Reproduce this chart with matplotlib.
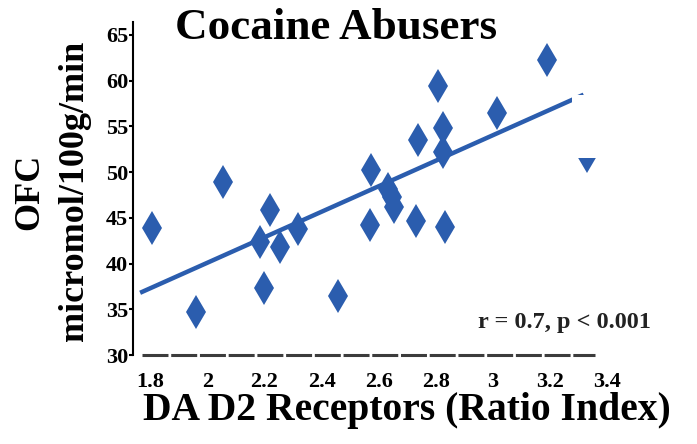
import numpy as np
import matplotlib.pyplot as plt
from matplotlib.patches import Rectangle

# D2 receptor availability vs. OFC metabolism, cocaine abusers
d2_ratio = [1.806, 1.961, 2.055, 2.183, 2.200, 2.218, 2.253, 2.319, 2.456,
            2.568, 2.573, 2.634, 2.646, 2.652, 2.731, 2.736, 2.806, 2.825,
            2.825, 2.833, 3.014, 3.189, 3.330]
ofc_metab = [43.9, 34.7, 48.9, 42.4, 37.3, 45.9, 41.8, 43.8, 36.4,
             44.2, 50.2, 48.2, 47.3, 46.2, 44.6, 53.5, 59.4, 54.8,
             52.2, 44.0, 56.4, 62.3, 51.7]

xticks = [1.8, 2.0, 2.2, 2.4, 2.6, 2.8, 3.0, 3.2, 3.4]
xtick_labels = ['1.8', '2', '2.2', '2.4', '2.6', '2.8', '3', '3.2', '3.4']
yticks = [30, 35, 40, 45, 50, 55, 60, 65]

# fitted line endpoints
fit_x = [1.772, 3.31]
fit_slope = 13.95
fit_intercept = 12.18

blue = '#2B5DAE'
plt.rcParams['font.family'] = ['Liberation Serif', 'DejaVu Serif']
plt.rcParams['font.weight'] = 'bold'

fig = plt.figure(figsize=(6.97, 4.44), dpi=100)
ax = fig.add_axes([133 / 697, 89 / 444, 480 / 697, 333 / 444])

ax.plot(d2_ratio, ofc_metab, linestyle='none', marker='d', ms=17.5,
        color=blue, markeredgewidth=0, zorder=3)
fx = np.array(fit_x)
ax.plot(fx, fit_slope * fx + fit_intercept, color=blue, lw=3.2, zorder=4)

# white box over the top-right end of the fit
ax.add_patch(Rectangle((3.277, 51.55), 0.098, 6.9, facecolor='white',
                       edgecolor='none', zorder=6))

# broken x axis line
ax.plot([1.771, 3.357], [30, 30], color='#3c3c3c', lw=2.2,
        dashes=(8.5, 0.9), clip_on=False, dash_capstyle='butt')

ax.set_xlim(1.74, 3.42)
ax.set_ylim(30, 66.4)
for s in ['top', 'right', 'bottom']:
    ax.spines[s].set_visible(False)
ax.spines['left'].set_linewidth(1.5)

ax.set_xticks(xticks)
ax.set_xticklabels(xtick_labels)
ax.set_yticks(yticks)
ax.tick_params(axis='x', length=0, pad=12, labelsize=16)
ax.tick_params(axis='y', direction='out', length=3, width=1.5, pad=0.5,
               labelsize=16)

ax.text(3.249, 33.6, 'r = 0.7, p < 0.001', fontsize=17.5, ha='center',
        va='center', color='#222222')

fig.text(336 / 697, 1 - 28 / 444, 'Cocaine Abusers', fontsize=32.5,
         ha='center', va='center')
fig.text(407 / 697, 1 - 410 / 444, 'DA D2 Receptors (Ratio Index)',
         fontsize=28.5, ha='center', va='center')
fig.text(30 / 697, 1 - 192 / 444, 'OFC', fontsize=26, rotation=90,
         ha='center', va='center')
fig.text(75 / 697, 1 - 191 / 444, 'micromol/100g/min', fontsize=26,
         rotation=90, ha='center', va='center')

fig.savefig('out.png', dpi=100)
